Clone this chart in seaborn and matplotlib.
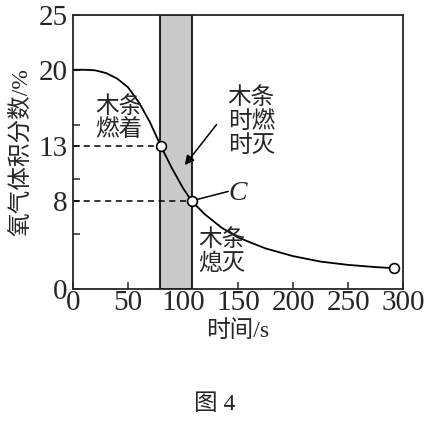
import matplotlib
matplotlib.use('Agg')
import matplotlib.pyplot as plt
import seaborn as sns
import pandas as pd

# curve (time in s, oxygen volume %)
curve_time = [0, 10, 20, 30, 40, 50, 60, 70, 80, 90, 100, 108, 120, 135, 150,
              175, 200, 225, 250, 275, 292]
curve_o2 = [20, 20, 19.95, 19.7, 19.2, 18.4, 17.0, 15.2, 13, 11.0, 9.2, 8,
            6.8, 5.6, 4.7, 3.7, 3.0, 2.5, 2.2, 2.0, 1.9]

# marked points
mark_time = [80, 108, 292]
mark_o2 = [13, 8, 1.9]

# shaded band (wood strip burns on and off)
band_start, band_end = 79, 108

x_ticks = [0, 50, 100, 150, 200, 250, 300]
y_ticks = [0, 8, 13, 20, 25]
y_minor = [5, 10, 15]

sns.set_style('ticks')
plt.rcParams['font.family'] = ['Liberation Serif', 'Noto Sans CJK SC']
cjk = ['Noto Sans CJK SC', 'DejaVu Sans']

fig = plt.figure(figsize=(4.27, 4.21), dpi=100)
ax = fig.add_axes([0.171, 0.3135, 0.773, 0.651])

ax.axvspan(band_start, band_end, facecolor='#cacaca', edgecolor='black', lw=1.2, zorder=1)

curve_df = pd.DataFrame({'t': curve_time, 'o2': curve_o2})
sns.lineplot(data=curve_df, x='t', y='o2', color='black', lw=1.3, ax=ax, zorder=3)

# dashed guides
ax.plot([0, mark_time[0]], [mark_o2[0], mark_o2[0]], ls=(0, (4, 3)), color='black', lw=1.1, zorder=2)
ax.plot([0, mark_time[1]], [mark_o2[1], mark_o2[1]], ls=(0, (4, 3)), color='black', lw=1.1, zorder=2)

mark_df = pd.DataFrame({'t': mark_time, 'o2': mark_o2})
sns.scatterplot(data=mark_df, x='t', y='o2', s=50, facecolor='white', edgecolor='black',
                linewidth=1.2, ax=ax, zorder=5)

ax.set_xlim(0, 300)
ax.set_ylim(0, 25)
ax.set_xticks(x_ticks)
ax.set_yticks(y_ticks)
ax.set_yticks(y_minor, minor=True)
ax.tick_params(which='both', direction='in', length=5, width=1.1)
ax.tick_params(axis='both', labelsize=21)
ax.tick_params(axis='x', pad=1)
ax.tick_params(axis='y', pad=4)
for s in ax.spines.values():
    s.set_linewidth(1.3)

# annotations
ax.text(42, 15.6, '木条\n燃着', family=cjk, fontsize=17, ha='center', va='center', linespacing=1.05)
ax.text(162, 15.3, '木条\n时燃\n时灭', family=cjk, fontsize=17, ha='center', va='center', linespacing=1.05)
ax.annotate('', xy=(100, 11.1), xytext=(132, 15.2),
            arrowprops=dict(arrowstyle='-|>', color='black', lw=1.1, mutation_scale=14))
ax.plot([110, 141], [8.1, 8.9], color='black', lw=1.1)
ax.text(150, 8.7, 'C', fontstyle='italic', fontsize=20, ha='center', va='center')
ax.text(135, 3.4, '木条\n熄灭', family=cjk, fontsize=17, ha='center', va='center', linespacing=1.05)

ax.set_xlabel('时间/s', fontsize=17)
ax.set_ylabel('氧气体积分数/%', fontsize=17)
ax.xaxis.set_label_coords(0.5, -0.115)
ax.yaxis.set_label_coords(-0.125, 0.5)

fig.text(215 / 427, 1 - 405 / 421, '图 4', fontsize=17, ha='center', va='center')

fig.savefig('out.png', dpi=100)
